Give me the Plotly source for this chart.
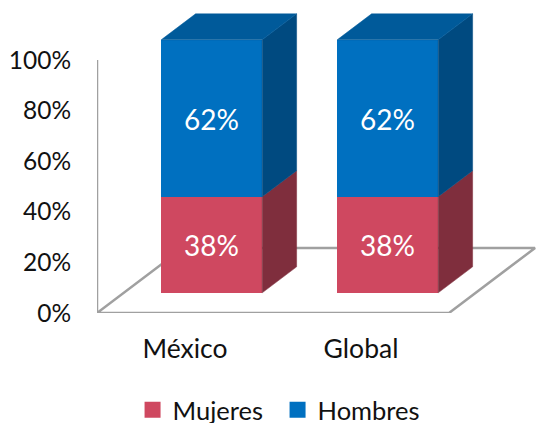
import plotly.graph_objects as go

categories = ["México", "Global"]
mujeres = [38, 38]
hombres = [62, 62]
y_ticks = [0, 20, 40, 60, 80, 100]

RED, RED_SIDE = "#CF4860", "#7F2E3D"
BLUE, BLUE_TOP, BLUE_SIDE = "#0070C0", "#005A9A", "#004A80"
GREY = "#A0A0A0"
FAMILY = "Lato, Carlito, sans-serif"
FONT = dict(family=FAMILY, size=26.5, color="#111")
LEGEND_FONT = dict(family=FAMILY, size=25.5, color="#111")
TICK_FONT = dict(family=FAMILY, size=24.5, color="#111")
BAR_FONT = dict(family=FAMILY, size=28, color="white")

# Oblique projection of the 3-D floor: full depth shifts x and y by these amounts
DX, DY = 0.489, 25.7
BAR_W = 0.574
D_FRONT, D_BACK = 0.31, 0.71


def proj(x, y, d):
    return x + d * DX, y + d * DY


def face(pts, color, name):
    xs, ys = zip(*pts)
    return go.Scatter(x=list(xs) + [xs[0]], y=list(ys) + [ys[0]], mode="lines", fill="toself",
                      fillcolor=color, line=dict(color=color, width=0.5), hoverinfo="skip",
                      showlegend=False, xaxis="x2", yaxis="y2", name=name)


fig = go.Figure()

# floor and value axis (behind the columns)
n = len(categories)
x0, x1 = -0.5, n - 0.5
floor = [proj(x0, 0, 1), proj(x0, 0, 0), proj(x1, 0, 0), proj(x1, 0, 1), proj(x0, 0, 1)]
fig.add_trace(go.Scatter(x=[p[0] for p in floor], y=[p[1] for p in floor], mode="lines",
                         line=dict(color=GREY, width=2.5), hoverinfo="skip", showlegend=False, cliponaxis=False))
fig.add_trace(go.Scatter(x=[x0, x0], y=[0, y_ticks[-1]], mode="lines",
                         line=dict(color=GREY, width=2.5), hoverinfo="skip", showlegend=False, cliponaxis=False))

# front faces
centres = [i + D_FRONT * DX for i in range(n)]
base = D_FRONT * DY
fig.add_trace(go.Bar(x=centres, y=mujeres, base=[base] * n, width=BAR_W, marker=dict(color=RED, line_width=0),
                     text=[f"{v}%" for v in mujeres], textposition="inside", insidetextanchor="middle",
                     textangle=0, textfont=BAR_FONT,
                     showlegend=False, xaxis="x2", yaxis="y2", name="Mujeres"))
fig.add_trace(go.Bar(x=centres, y=hombres, base=[base + m for m in mujeres], width=BAR_W,
                     marker=dict(color=BLUE, line_width=0),
                     text=[f"{v}%" for v in hombres], textposition="inside", insidetextanchor="middle",
                     textangle=0, textfont=BAR_FONT,
                     showlegend=False, xaxis="x2", yaxis="y2", name="Hombres"))

# side and top faces
for i in range(n):
    left, right = i - BAR_W / 2, i + BAR_W / 2
    m, h = mujeres[i], hombres[i]
    r0 = proj(right, 0, D_FRONT)
    r1 = proj(right, m, D_FRONT)
    r2 = proj(right, m + h, D_FRONT)
    b0 = proj(right, 0, D_BACK)
    b1 = proj(right, m, D_BACK)
    b2 = proj(right, m + h, D_BACK)
    fig.add_trace(face([r0, r1, b1, b0], RED_SIDE, "side"))
    fig.add_trace(face([r1, r2, b2, b1], BLUE_SIDE, "side"))
    fig.add_trace(face([proj(left, m + h, D_FRONT), r2, b2, proj(left, m + h, D_BACK)], BLUE_TOP, "top"))

# legend entries
for name, color in (("Mujeres", RED), ("Hombres", BLUE)):
    fig.add_trace(go.Scatter(x=[None], y=[None], mode="markers", name=name,
                             marker=dict(symbol="square", size=16, color=color)))

xr = [x0, x0 + 439 / 176]
yr = [0, 313 / 2.53]
fig.update_layout(
    width=536, height=423, margin=dict(l=97, r=0, t=0, b=110, autoexpand=False),
    plot_bgcolor="white", paper_bgcolor="white", font=FONT, bargap=0,
    barmode="overlay",
    xaxis=dict(range=xr, tickmode="array", tickvals=list(range(n)), ticktext=categories,
               showgrid=False, zeroline=False, showline=False, ticks="outside", ticklen=12, tickcolor="white",
               tickfont=FONT, fixedrange=True),
    yaxis=dict(range=yr, tickmode="array", tickvals=y_ticks, ticktext=[f"{v}%" for v in y_ticks],
               showgrid=False, zeroline=False, showline=False, ticks="outside", ticklen=20, tickcolor="white",
               tickfont=TICK_FONT, fixedrange=True),
    xaxis2=dict(range=xr, overlaying="x", visible=False, fixedrange=True),
    yaxis2=dict(range=yr, overlaying="y", visible=False, fixedrange=True),
    legend=dict(orientation="h", x=0.081, xanchor="left", y=-0.235, yanchor="top", font=LEGEND_FONT,
                entrywidth=100, entrywidthmode="pixels", bgcolor="rgba(0,0,0,0)"),
)
fig.write_html("out.html", post_script="document.body.style.margin='0';", config=dict(displayModeBar=False))
